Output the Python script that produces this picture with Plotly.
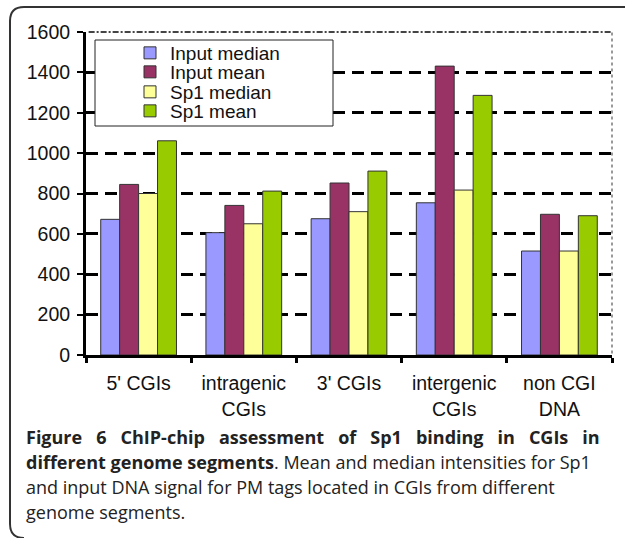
import plotly.graph_objects as go

categories = ["5' CGIs", "intragenic<br>CGIs", "3' CGIs", "intergenic<br>CGIs", "non CGI<br>DNA"]
input_median = [672, 606, 675, 754, 515]
input_mean = [845, 741, 852, 1431, 697]
sp1_median = [800, 650, 710, 817, 515]
sp1_mean = [1061, 812, 911, 1286, 690]
series_names = ["Input median", "Input mean", "Sp1 median", "Sp1 mean"]
series_colors = ["#9999FF", "#993366", "#FFFF99", "#99CC00"]
y_ticks = [0, 200, 400, 600, 800, 1000, 1200, 1400, 1600]

W, H = 625, 538
L, R, T, B = 86, 612, 32, 355


def px(x):
    return (x - L) / (R - L)


def py(y):
    return (B - y) / (B - T)


fig = go.Figure()
legend_ids = ["legend", "legend2", "legend3", "legend4"]
legend_centers = [53, 72, 92, 111]
for name, vals, col, lg in zip(series_names, [input_median, input_mean, sp1_median, sp1_mean],
                               series_colors, legend_ids):
    fig.add_trace(go.Bar(x=categories, y=vals, name=name, legend=lg,
                         marker=dict(color=col, line=dict(color="#333333", width=1))))

font_chart = "Arial, Liberation Sans, sans-serif"
layout_legends = {}
for lg, cy in zip(legend_ids, legend_centers):
    layout_legends[lg] = dict(x=px(130), y=py(cy), xanchor="left", yanchor="middle",
                              bgcolor="rgba(0,0,0,0)", borderwidth=0,
                              font=dict(family=font_chart, size=19, color="#111111"),
                              itemclick=False)

shapes = [
    # legend box
    dict(type="rect", xref="paper", yref="paper", x0=px(95), x1=px(333), y0=py(126), y1=py(40),
         line=dict(color="#222222", width=1), fillcolor="white", layer="above"),
    # top border of plot (dotted)
    dict(type="line", xref="paper", yref="paper", x0=0.005, x1=1, y0=1, y1=1,
         line=dict(color="white", width=4)),
    dict(type="line", xref="paper", yref="paper", x0=0.005, x1=1, y0=1, y1=1,
         line=dict(color="#444444", width=2, dash="6px,2px,2px,2px")),
    dict(type="line", xref="paper", yref="paper", x0=1, x1=1, y0=0.005, y1=1,
         line=dict(color="#999999", width=2, dash="dot")),
    # figure frame (rounded corners)
    dict(type="path", xref="paper", yref="paper",
         path=(f"M {px(630)},{py(7)} L {px(24)},{py(7)} Q {px(10)},{py(7)} {px(10)},{py(21)} "
               f"L {px(10)},{py(524)} Q {px(10)},{py(538)} {px(24)},{py(538)}"),
         line=dict(color="#333333", width=2)),
]

cap_font = "Open Sans, Noto Sans, sans-serif"
G1 = " \u00a0\u00a0"
line1_words = ["Figure", "6", "ChIP-chip", "assessment", "of", "Sp1", "binding", "in", "CGIs", "in"]
caption_lines = [
    ("<b>" + G1.join(line1_words) + "</b>", 437),
    ("<b>different genome segments</b>. Mean and median intensities for Sp1", 462),
    ("and input DNA signal for PM tags located in CGIs from different", 487),
    ("genome segments.", 512),
]
annotations = []
for txt, cy in caption_lines:
    annotations.append(dict(text=txt, xref="paper", yref="paper", x=px(24), y=py(cy),
                            xanchor="left", yanchor="middle", showarrow=False,
                            font=dict(family=cap_font, size=18, color="#222222")))

fig.update_layout(
    width=W, height=H,
    margin=dict(l=L, r=W - R, t=T, b=H - B, pad=0),
    paper_bgcolor="white", plot_bgcolor="white",
    barmode="group", bargap=0.28, bargroupgap=0,
    showlegend=True,
    shapes=shapes,
    annotations=annotations,
    **layout_legends,
)
fig.update_yaxes(range=[0, 1600], tickvals=y_ticks, showgrid=True, gridcolor="black",
                 gridwidth=3, griddash="12px,7px", showline=True, linecolor="black", linewidth=3,
                 ticks="outside", ticklen=6, tickwidth=2, tickcolor="black",
                 ticklabelstandoff=3, zeroline=False,
                 tickfont=dict(family=font_chart, size=19.5, color="#111111"))
fig.update_xaxes(showline=True, linecolor="black", linewidth=3, ticks="outside",
                 tickson="boundaries", ticklen=5, tickwidth=3, tickcolor="black",
                 ticklabelstandoff=9, showgrid=False,
                 tickfont=dict(family=font_chart, size=19.5, color="#111111"))

fig.write_html("out.html", config={"displayModeBar": False},
               post_script="document.body.style.margin='0';")
